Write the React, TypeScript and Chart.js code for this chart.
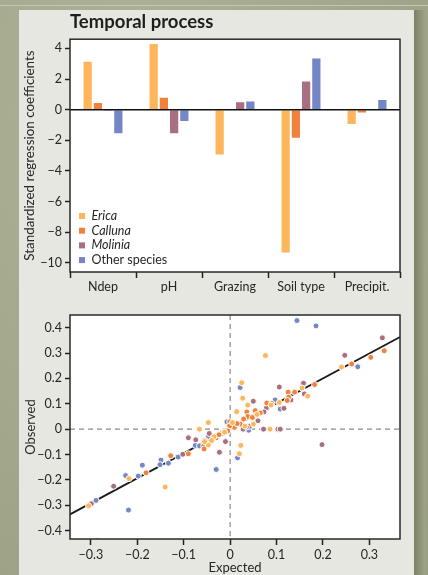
import React, { useEffect, useRef } from 'react';
import { Chart, registerables } from 'chart.js';

Chart.register(...registerables);

const FONT = 'Lato, "Open Sans", sans-serif';
const TEXT = '#262626';

// ---------- Bar chart data ----------
const categories = ['Ndep', 'pH', 'Grazing', 'Soil type', 'Precipit.'];
const speciesNames = ['Erica', 'Calluna', 'Molinia', 'Other species'];
const speciesItalic = [true, true, true, false];
const speciesColors = ['#fdb65c', '#f0823b', '#a86f80', '#7486c6'];
const ericaCoef = [3.2, 4.35, -3.0, -9.4, -1.0];
const callunaCoef = [0.5, 0.85, 0.05, -1.9, -0.25];
const moliniaCoef = [-0.1, -1.6, 0.55, 1.9, -0.05];
const otherCoef = [-1.6, -0.8, 0.6, 3.4, 0.7];
const barYTicks = [-10, -8, -6, -4, -2, 0, 2, 4];

// ---------- Scatter data (expected, observed) ----------
const ericaPoints = [
  [0.076, 0.29], [0.025, 0.183], [0.027, 0.122], [0.038, 0.095], [0.014, 0.069],
  [-0.047, 0.026], [-0.066, 0.0], [0.086, 0.0], [0.023, -0.064], [0.02, -0.097],
  [-0.047, -0.062], [-0.14, -0.228], [-0.218, -0.195], [-0.286, -0.438], [-0.305, -0.302],
  [0.24, 0.245], [0.155, 0.162], [0.167, 0.13], [0.106, 0.105], [0.005, 0.026],
  [-0.055, -0.049], [0.05, 0.02], [0.032, 0.012], [-0.012, -0.012], [0.088, 0.095],
  [-0.035, -0.03], [0.058, 0.058], [-0.04, -0.045],
];
const callunaPoints = [
  [0.332, 0.309], [0.303, 0.283], [0.262, 0.257], [0.182, 0.176], [0.139, 0.146],
  [0.125, 0.146], [0.126, 0.126], [0.123, 0.113], [0.079, 0.103], [0.09, 0.101],
  [0.054, 0.073], [0.065, 0.064], [0.036, 0.068], [0.038, 0.05], [0.048, 0.046],
  [0.029, 0.04], [0.022, 0.02], [0.009, 0.007], [-0.001, 0.029], [-0.001, 0.013],
  [-0.018, -0.017], [-0.03, -0.034], [-0.039, -0.046], [-0.054, -0.045], [-0.057, -0.066],
  [-0.056, -0.078], [-0.09, -0.097], [-0.128, -0.105], [-0.181, -0.172], [-0.005, -0.007],
  [0.015, 0.022], [-0.024, -0.022],
];
const moliniaPoints = [
  [0.328, 0.36], [0.247, 0.291], [0.158, 0.181], [0.16, 0.139], [0.106, 0.166],
  [0.131, 0.115], [0.116, 0.082], [0.078, 0.083], [0.073, 0.068], [0.05, 0.11],
  [0.06, 0.033], [0.042, 0.011], [0.072, 0.0], [0.103, 0.0], [0.108, 0.0],
  [0.198, -0.061], [-0.01, -0.049], [-0.023, -0.091], [-0.045, -0.017], [-0.09, -0.034],
  [-0.074, -0.042], [-0.102, -0.099], [-0.251, -0.225], [-0.299, -0.294], [0.035, 0.008],
  [0.028, 0.0],
];
const otherPoints = [
  [0.144, 0.428], [0.185, 0.407], [0.275, 0.246], [0.0215, 0.164], [0.097, 0.115],
  [0.108, 0.079], [0.016, -0.113], [-0.03, -0.159], [-0.219, -0.319], [-0.289, -0.281],
  [-0.225, -0.183], [-0.198, -0.185], [-0.189, -0.142], [-0.149, -0.122], [-0.151, -0.14],
  [-0.133, -0.134], [-0.112, -0.11], [-0.075, -0.064], [-0.066, -0.066], [-0.047, -0.03],
  [-0.007, 0.029], [0.04, -0.004],
];
const fitX = [-0.345, 0.366];
const fitY = [-0.336, 0.363];
const scatterXTicks = [-0.3, -0.2, -0.1, 0, 0.1, 0.2, 0.3];
const scatterYTicks = [-0.4, -0.3, -0.2, -0.1, 0, 0.1, 0.2, 0.3, 0.4];

const minus = (s: string) => s.replace('-', '\u2212');
const fmtInt = (v: number) => minus(String(v));
const fmtDec = (v: number) => {
  const r = Math.round(v * 10) / 10;
  if (r === 0) return '0';
  return minus(r.toFixed(1));
};

const plotBg = {
  id: 'plotBg',
  beforeDraw(chart: any) {
    const { ctx, chartArea: a } = chart;
    ctx.save();
    ctx.fillStyle = '#ffffff';
    ctx.fillRect(a.left, a.top, a.right - a.left, a.bottom - a.top);
    ctx.restore();
  },
};
const frame = {
  id: 'frame',
  afterDraw(chart: any) {
    const { ctx, chartArea: a } = chart;
    ctx.save();
    ctx.strokeStyle = '#2a2a2a';
    ctx.lineWidth = 1.5;
    ctx.strokeRect(a.left, a.top, a.right - a.left, a.bottom - a.top);
    ctx.restore();
  },
};
const zeroLine = {
  id: 'zeroLine',
  afterDatasetsDraw(chart: any) {
    const { ctx, chartArea: a } = chart;
    const y = chart.scales.y.getPixelForValue(0);
    ctx.save();
    ctx.strokeStyle = '#111';
    ctx.lineWidth = 1.5;
    ctx.beginPath();
    ctx.moveTo(a.left, y);
    ctx.lineTo(a.right, y);
    ctx.stroke();
    ctx.restore();
  },
};
const barLegend = {
  id: 'barLegend',
  afterDraw(chart: any) {
    const { ctx, chartArea: a } = chart;
    ctx.save();
    chart.data.datasets.forEach((ds: any, i: number) => {
      const y = a.bottom - 56 + i * 14.7;
      ctx.fillStyle = ds.backgroundColor;
      ctx.fillRect(a.left + 9, y - 3, 6, 6);
      ctx.fillStyle = TEXT;
      ctx.font = `${speciesItalic[i] ? 'italic ' : ''}12.5px ${FONT}`;
      ctx.textBaseline = 'middle';
      ctx.fillText(ds.label, a.left + 21.5, y);
    });
    ctx.restore();
  },
};
const dashedAxes = {
  id: 'dashedAxes',
  beforeDatasetsDraw(chart: any) {
    const { ctx, chartArea: a } = chart;
    const x0 = chart.scales.x.getPixelForValue(0);
    const y0 = chart.scales.y.getPixelForValue(0);
    ctx.save();
    ctx.strokeStyle = '#8a8a8a';
    ctx.lineWidth = 1.2;
    ctx.setLineDash([5, 4]);
    ctx.beginPath();
    ctx.moveTo(a.left, y0);
    ctx.lineTo(a.right, y0);
    ctx.moveTo(x0, a.top);
    ctx.lineTo(x0, a.bottom);
    ctx.stroke();
    ctx.restore();
  },
};

const tickFont = { family: FONT, size: 12.5 };

function BarChart() {
  const ref = useRef<HTMLCanvasElement>(null);
  useEffect(() => {
    const series = [ericaCoef, callunaCoef, moliniaCoef, otherCoef];
    const chart = new Chart(ref.current!, {
      type: 'bar',
      data: {
        labels: categories,
        datasets: series.map((d, i) => ({
          label: speciesNames[i],
          data: d,
          backgroundColor: speciesColors[i],
          borderColor: 'rgba(255,255,255,0.55)',
          borderWidth: 1,
          categoryPercentage: 0.62,
          barPercentage: 1,
        })),
      },
      options: {
        responsive: false,
        animation: false,
        devicePixelRatio: 1,
        layout: { padding: { left: 20, right: 28, top: 0, bottom: 0 } },
        plugins: {
          legend: { display: false },
          tooltip: { enabled: false },
          title: {
            display: true,
            text: 'Temporal process',
            align: 'start',
            fullSize: false,
            color: '#1e1e1e',
            font: { family: FONT, size: 18.5, weight: 'bold' },
            padding: { top: 11, bottom: 6 },
          },
        },
        scales: {
          x: {
            offset: true,
            grid: { offset: true, drawOnChartArea: false, drawTicks: true, tickLength: 6, tickColor: '#222', tickWidth: 1.5 },
            border: { display: false },
            ticks: { font: tickFont, color: TEXT, padding: 1, maxRotation: 0, autoSkip: false },
            afterFit: (s: any) => { s.height = 23; },
          },
          y: {
            min: -10.6,
            max: 4.6,
            afterBuildTicks: (s: any) => { s.ticks = barYTicks.map((v) => ({ value: v })); },
            ticks: { font: tickFont, color: TEXT, padding: 3, callback: (v: any) => fmtInt(Number(v)) },
            grid: { drawOnChartArea: false, tickLength: 5, tickColor: '#222', tickWidth: 1.5 },
            border: { display: false },
            title: {
              display: true,
              text: 'Standardized regression coefficients',
              color: TEXT,
              font: { family: FONT, size: 13.4 },
              padding: { top: 2, bottom: 0 },
            },
            afterFit: (s: any) => { s.width = 50; },
          },
        },
      },
      plugins: [plotBg, zeroLine, frame, barLegend],
    } as any);
    return () => chart.destroy();
  }, []);
  return (
    <canvas
      ref={ref}
      width={428}
      height={295}
      style={{ position: 'absolute', left: 0, top: 0, width: 428, height: 295 }}
    />
  );
}

function ScatterChart() {
  const ref = useRef<HTMLCanvasElement>(null);
  useEffect(() => {
    const groups = [ericaPoints, callunaPoints, moliniaPoints, otherPoints];
    const chart = new Chart(ref.current!, {
      type: 'scatter',
      data: {
        datasets: [
          ...groups.map((g, i) => ({
            type: 'scatter',
            label: speciesNames[i],
            data: g.map(([x, y]) => ({ x, y })),
            backgroundColor: speciesColors[i],
            pointBackgroundColor: speciesColors[i],
            pointBorderColor: '#ffffff',
            pointBorderWidth: 1,
            pointRadius: 3,
            order: 1,
          })),
          {
            type: 'line',
            label: 'fit',
            data: fitX.map((x, i) => ({ x, y: fitY[i] })),
            borderColor: '#1a1a1a',
            borderWidth: 1.8,
            pointRadius: 0,
            showLine: true,
            fill: false,
            order: 10,
          },
        ],
      },
      options: {
        responsive: false,
        animation: false,
        devicePixelRatio: 1,
        layout: { padding: { left: 20, right: 28, top: 20, bottom: 0 } },
        plugins: { legend: { display: false }, tooltip: { enabled: false } },
        scales: {
          x: {
            type: 'linear',
            min: -0.345,
            max: 0.366,
            afterBuildTicks: (s: any) => { s.ticks = scatterXTicks.map((v) => ({ value: v })); },
            ticks: { font: tickFont, color: TEXT, padding: 2, maxRotation: 0, callback: (v: any) => fmtDec(Number(v)) },
            grid: { drawOnChartArea: false, tickLength: 6, tickColor: '#222', tickWidth: 1.5 },
            border: { display: false },
            title: { display: true, text: 'Expected', color: TEXT, font: { family: FONT, size: 13 }, padding: { top: 0, bottom: 4 } },
            afterFit: (s: any) => { s.height = 41; },
          },
          y: {
            type: 'linear',
            min: -0.433,
            max: 0.45,
            afterBuildTicks: (s: any) => { s.ticks = scatterYTicks.map((v) => ({ value: v })); },
            ticks: { font: tickFont, color: TEXT, padding: 3, callback: (v: any) => fmtDec(Number(v)) },
            grid: { drawOnChartArea: false, tickLength: 5, tickColor: '#222', tickWidth: 1.5 },
            border: { display: false },
            title: { display: true, text: 'Observed', color: TEXT, font: { family: FONT, size: 13 }, padding: { top: 3, bottom: 0 } },
            afterFit: (s: any) => { s.width = 50; },
          },
        },
      },
      plugins: [plotBg, dashedAxes, frame],
    } as any);
    return () => chart.destroy();
  }, []);
  return (
    <canvas
      ref={ref}
      width={428}
      height={285}
      style={{ position: 'absolute', left: 0, top: 295, width: 428, height: 285 }}
    />
  );
}

export default function App() {
  return (
    <div
      style={{
        position: 'absolute',
        left: 0,
        top: 0,
        width: 428,
        height: 575,
        overflow: 'hidden',
        background: 'radial-gradient(ellipse at 30% 20%, #aeb397 0%, #a3a88c 55%, #989e82 100%)',
      }}
    >
      <div style={{ position: 'absolute', left: 0, top: 5, width: 428, height: 1, background: '#c3c6b1' }} />
      <div style={{ position: 'absolute', left: 19, top: 10, width: 395, height: 565, background: '#e7e7e1' }} />
      <div
        style={{
          position: 'absolute',
          left: 414,
          top: 10,
          width: 12,
          height: 565,
          background: 'linear-gradient(to right, #7c8266, #a1a68b)',
        }}
      />
      <BarChart />
      <ScatterChart />
    </div>
  );
}
